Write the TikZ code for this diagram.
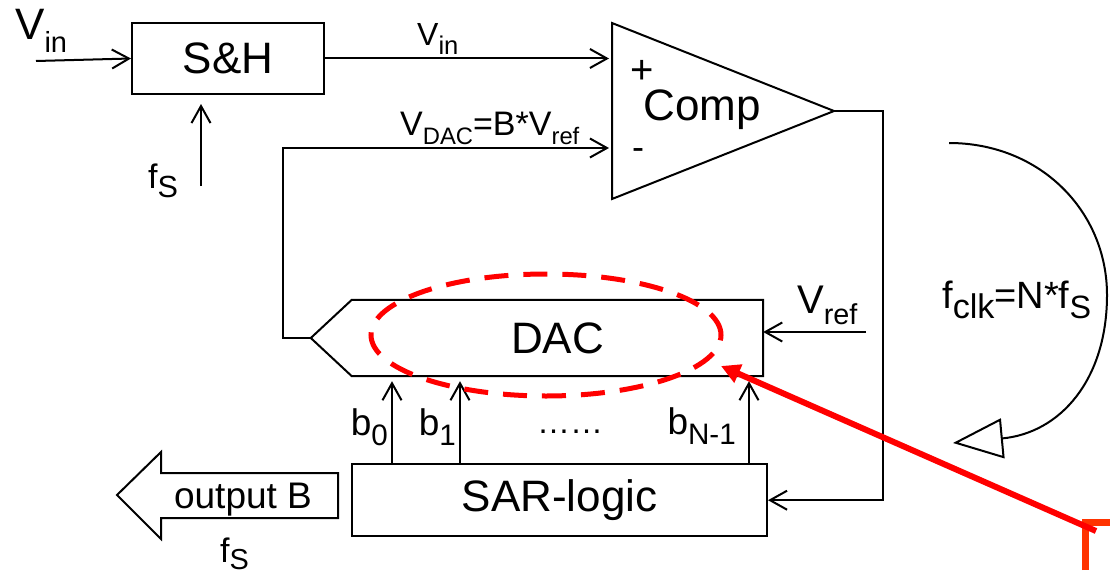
\documentclass[tikz,border=0pt]{standalone}
\usepackage{fontspec}
\setmainfont{Liberation Sans}
\usepackage{graphicx}
\usepackage{xcolor}
\usetikzlibrary{arrows.meta, positioning, calc}

\definecolor{markorange}{RGB}{255,51,0}
\newcommand{\lowsub}[2][0.8]{\raisebox{-0.28em}{\scalebox{#1}{#2}}}
\newcommand{\fsz}[1]{\fontsize{#1}{#1}\selectfont}

\begin{document}
\begin{tikzpicture}[x=1pt, y=-1pt,
        wire/.style={line width=2pt},
        arr/.style={line width=2pt, -{Straight Barb[length=17pt, width=19pt]}},
        block/.style={draw, rectangle, line width=2pt, inner sep=0pt, font=\fsz{44}},
        lbl/.style={inner sep=0pt}]
        \useasboundingbox (0,0) rectangle (1110,578);

        % Sample and hold
        \node[block, minimum width=192pt, minimum height=71pt] (sh) at (228,58.5) {S\&H};
        \coordinate (vin) at (36,61);
        \coordinate (shclk) at (201,186);
        \node[lbl, anchor=base west, font=\fsz{44}] (vinlbl) at (15,40) {V\lowsub[0.66]{in}};
        \node[lbl, anchor=base west, font=\fsz{34}] (fslbl) at (148,188) {f\lowsub[0.9]{S}};

        % Comparator
        \draw[wire] (612,23) coordinate (cmptop) -- (834,111) coordinate (cmpout) -- (612,199) coordinate (cmpbot) -- cycle;
        \node[font=\fsz{44}] (comp) at (702,110) {Comp};
        \node[lbl, font=\fsz{40}] (plus) at (642,72) {+};
        \node[lbl, font=\fsz{36}] (minus) at (638,154) {-};
        \coordinate (cplus) at (612,60);
        \coordinate (cminus) at (612,148);

        % DAC
        \node[font=\fsz{44}, minimum width=411pt, minimum height=76pt, inner sep=0pt] (dac) at (557.5,338) {DAC};
        \coordinate (dactip) at ([xshift=-41pt]dac.west);
        \draw[wire] (dac.north west) -- (dac.north east) -- (dac.south east) -- (dac.south west) -- (dactip) -- cycle;
        \coordinate (vref) at (866,332);
        \node[lbl, anchor=base west, font=\fsz{40}] (vreflbl) at (797,313) {V\lowsub[0.72]{ref}};

        % SAR logic
        \node[block, below=87pt of dac, xshift=2pt, minimum width=415pt, minimum height=72pt] (sar) {SAR-logic};

        % Output arrow
        \node[lbl, anchor=base, font=\fsz{37}] (outb) at (243,508) {output B};
        \draw[wire] (338,473) -- (161,473) -- (161,452) -- (117,495) -- (161,539) -- (161,518) -- (338,518) -- cycle;
        \node[lbl, anchor=base west, font=\fsz{34}] (fsout) at (220,562) {f\raisebox{-0.22em}{\scalebox{0.85}{S}}};

        % Bit lines
        \coordinate (b0) at ([xshift=41pt]sar.north west);
        \coordinate (b1) at ([xshift=109pt]sar.north west);
        \coordinate (bn) at ([xshift=398pt]sar.north west);
        \node[lbl, anchor=base east, font=\fsz{37}] (lb0) at (388,435) {b\lowsub{0}};
        \node[lbl, anchor=base east, font=\fsz{37}] (lb1) at (456,435) {b\lowsub{1}};
        \node[lbl, anchor=base east, font=\fsz{37}] (lbn) at (736,434) {b\lowsub{N-1}};
        \node[lbl, anchor=base, font=\fsz{33}] (dots) at (570,433) {……};

        % Clock
        \coordinate (clkA) at (949,143);
        \coordinate (clkB) at (953,443);
        \node[lbl, anchor=base west, font=\fsz{38}] (fclk) at (942,308) {f\lowsub[0.9]{clk}=N*f\lowsub[0.85]{S}};

        % Relationships
        \draw[arr] (vin) -- (sh.west);
        \draw[arr, shorten >=9pt] (shclk) -- (shclk |- sh.south);
        \draw[arr, shorten >=3pt] (sh.east) -- (sh.east -| cplus);
        \node[lbl, anchor=base west, font=\fsz{32}] (vinmid) at (417,46) {V\lowsub{in}};
        \draw[arr, shorten >=3pt] (dactip) -- ++(-28,0) |- (cminus);
        \node[lbl, anchor=base west, font=\fsz{34}] (vdac) at (400,135) {V\lowsub[0.7]{DAC}=B*V\lowsub[0.7]{ref}};
        \draw[arr] (cmpout) -- ++(49,0) |- (sar.east);
        \draw[arr] (vref) -- (vref -| dac.east);
        \draw[arr, shorten >=5pt] (b0) -- (b0 |- dac.south);
        \draw[arr, shorten >=5pt] (b1) -- (b1 |- dac.south);
        \draw[arr, shorten >=5pt] (bn) -- (bn |- dac.south);
        \draw[line width=2pt, -{Triangle[open, length=50pt, width=40pt]}] (clkA) .. controls (1040,143) and (1107,211) .. (1107,295) .. controls (1107,380) and (1060,433) .. (clkB);

        % Highlight
        \coordinate (redtail) at (1096,531);
        \coordinate (redtip) at (721,366);
        \draw[red, line width=5pt, dash pattern=on 24pt off 15pt] (546,335) ellipse [x radius=175pt, y radius=61pt];
        \draw[markorange, line width=7pt] (1085,570) -- (1085,522.5) -- (1110,522.5);
        \draw[red, line width=6pt, -{Triangle[length=19pt, width=19pt]}] (redtail) -- (redtip);
    \end{tikzpicture}
\end{document}
